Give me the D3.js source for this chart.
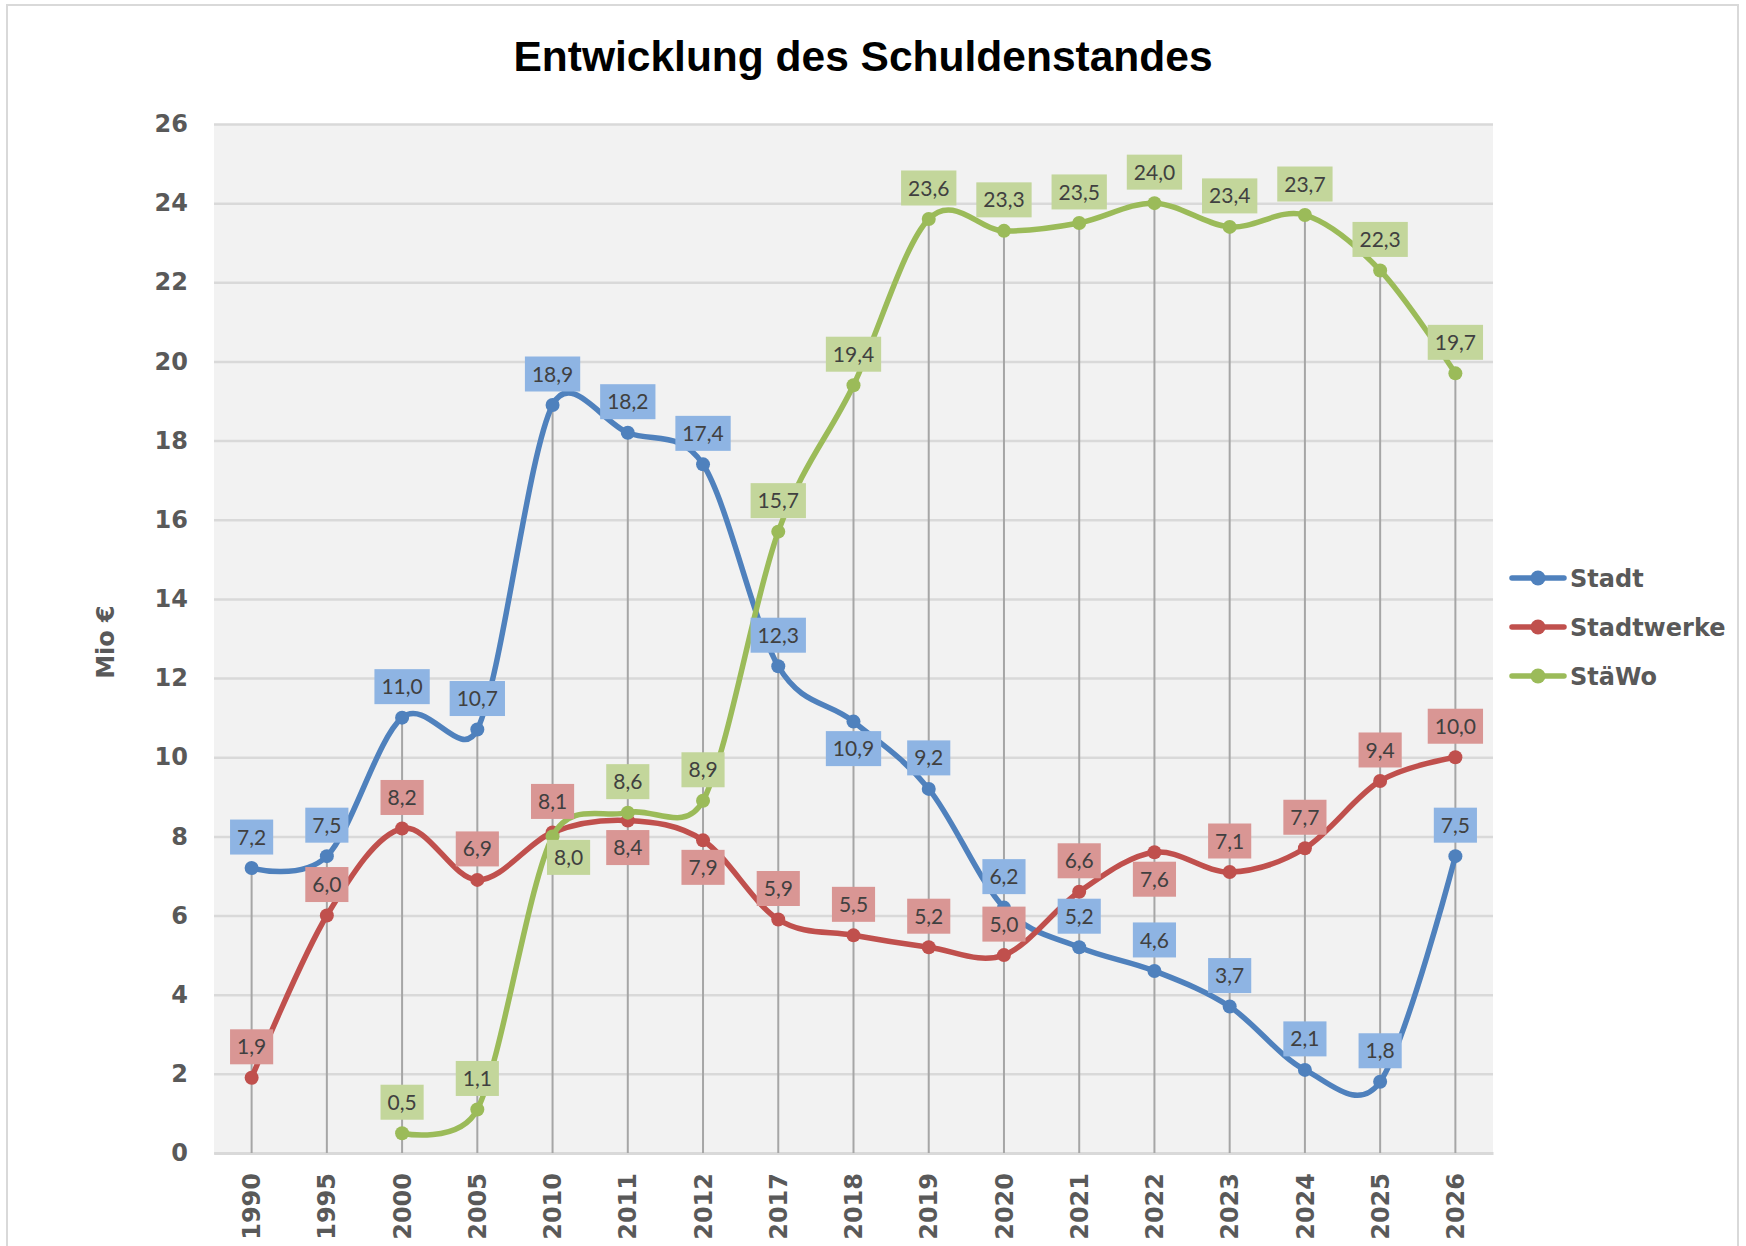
<!DOCTYPE html>
<html>
<head>
<meta charset="utf-8">
<script src="https://cdn.jsdelivr.net/npm/d3@7"></script>
<style>
  body { margin: 0; background: #fff; }
  svg { display: block; }
</style>
</head>
<body>
<svg id="chart" width="1746" height="1246"></svg>
<script>
// categories and series values (Mio €)
const years = ["1990", "1995", "2000", "2005", "2010", "2011", "2012", "2017", "2018",
               "2019", "2020", "2021", "2022", "2023", "2024", "2025", "2026"];
const stadt = [7.2, 7.5, 11.0, 10.7, 18.9, 18.2, 17.4, 12.3, 10.9, 9.2, 6.2, 5.2, 4.6, 3.7, 2.1, 1.8, 7.5];
const stadtwerke = [1.9, 6.0, 8.2, 6.9, 8.1, 8.4, 7.9, 5.9, 5.5, 5.2, 5.0, 6.6, 7.6, 7.1, 7.7, 9.4, 10.0];
const staewo = [null, null, 0.5, 1.1, 8.0, 8.6, 8.9, 15.7, 19.4, 23.6, 23.3, 23.5, 24.0, 23.4, 23.7, 22.3, 19.7];
const yTicks = [0, 2, 4, 6, 8, 10, 12, 14, 16, 18, 20, 22, 24, 26];
const seriesNames = ["Stadt", "Stadtwerke", "StäWo"];
// data labels that sit below their point ("r" = right and below)
const labelPlace = {"Stadt|2018": "b", "Stadtwerke|2011": "b", "Stadtwerke|2012": "b",
                    "Stadtwerke|2022": "b", "StäWo|2010": "r"};

const series = [
  {name: seriesNames[0], values: stadt, color: "#4F81BD", box: "#8EB4E3"},
  {name: seriesNames[1], values: stadtwerke, color: "#C0504D", box: "#D99694"},
  {name: seriesNames[2], values: staewo, color: "#9BBB59", box: "#C3D69B"}
];

const svg = d3.select("#chart");
const plot = {left: 214, right: 1493, top: 124, bottom: 1153};
const fmt = d3.formatLocale({decimal: ",", thousands: ".", grouping: [3], currency: ["", " €"]}).format(".1f");

// smoothed line like the spreadsheet one: catmull-rom tangents, handles capped at half a segment
const smoothPath = pts => {
  const p = d3.path();
  const n = pts.length;
  const tan = pts.map((q, i) => {
    if (i === 0 || i === n - 1) return [0, 0];
    return [(pts[i + 1][0] - pts[i - 1][0]) / 6, (pts[i + 1][1] - pts[i - 1][1]) / 6];
  });
  const cap = (t, seg) => {
    const len = Math.hypot(t[0], t[1]), max = 0.5 * seg;
    const k = len > max && len > 0 ? max / len : 1;
    return [t[0] * k, t[1] * k];
  };
  p.moveTo(pts[0][0], pts[0][1]);
  for (let i = 0; i < n - 1; i++) {
    const a = pts[i], b = pts[i + 1];
    const seg = Math.hypot(b[0] - a[0], b[1] - a[1]);
    const ta = cap(tan[i], seg), tb = cap(tan[i + 1], seg);
    p.bezierCurveTo(a[0] + ta[0], a[1] + ta[1], b[0] - tb[0], b[1] - tb[1], b[0], b[1]);
  }
  return p.toString();
};

// chart border
svg.append("rect")
  .attr("x", 7).attr("y", 5).attr("width", 1731).attr("height", 1260)
  .attr("fill", "#fff").attr("stroke", "#D9D9D9").attr("stroke-width", 2);

svg.append("text")
  .attr("x", 863).attr("y", 71)
  .attr("text-anchor", "middle")
  .style("font-family", "'Liberation Sans', Arial, sans-serif")
  .style("font-weight", "bold").style("font-size", "42.5px")
  .attr("fill", "#000")
  .text("Entwicklung des Schuldenstandes");

const x = d3.scaleBand().domain(years).range([plot.left, plot.right]);
const y = d3.scaleLinear().domain([0, 26]).range([plot.bottom, plot.top]);
const cx = d => x(d) + x.bandwidth() / 2;

svg.append("rect")
  .attr("x", plot.left).attr("y", plot.top)
  .attr("width", plot.right - plot.left).attr("height", plot.bottom - plot.top)
  .attr("fill", "#F2F2F2");

// horizontal gridlines
svg.append("g")
  .attr("transform", `translate(${plot.left},0)`)
  .call(d3.axisLeft(y).tickValues(yTicks).tickSize(-(plot.right - plot.left)).tickFormat(""))
  .call(g => g.select(".domain").remove())
  .call(g => g.selectAll("line").attr("stroke", "#D9D9D9").attr("stroke-width", 2.5));

// y axis labels
const tickFont = "'DejaVu Sans', sans-serif";
svg.append("g")
  .attr("transform", `translate(${plot.left},0)`)
  .call(d3.axisLeft(y).tickValues(yTicks).tickSize(0).tickPadding(26).tickFormat(d3.format("d")))
  .call(g => g.select(".domain").remove())
  .call(g => g.selectAll("text")
    .attr("fill", "#595959")
    .style("font-family", tickFont).style("font-weight", "bold").style("font-size", "24px"));

// x axis labels
svg.append("g")
  .attr("transform", `translate(0,${plot.bottom})`)
  .call(d3.axisBottom(x).tickSize(0))
  .call(g => g.select(".domain").attr("stroke", "#D9D9D9").attr("stroke-width", 3))
  .call(g => g.selectAll("text")
    .attr("transform", "rotate(-90)")
    .attr("x", -20).attr("y", 0).attr("dy", "0.36em")
    .attr("text-anchor", "end")
    .attr("fill", "#595959")
    .style("font-family", tickFont).style("font-weight", "bold").style("font-size", "24px"));

svg.append("text")
  .attr("transform", "translate(105,642) rotate(-90)")
  .attr("text-anchor", "middle").attr("dy", "0.36em")
  .attr("fill", "#595959")
  .style("font-family", tickFont).style("font-weight", "bold").style("font-size", "24px")
  .text("Mio €");

// drop lines from the highest point to the axis
svg.append("g").selectAll("line")
  .data(years)
  .join("line")
  .attr("x1", d => cx(d)).attr("x2", d => cx(d))
  .attr("y1", (d, i) => y(d3.max(series, s => s.values[i])))
  .attr("y2", plot.bottom)
  .attr("stroke", "#A6A6A6").attr("stroke-width", 2);

series.forEach(s => {
  const pts = years.map((year, i) => ({year, v: s.values[i]})).filter(d => d.v != null);
  const g = svg.append("g");
  g.append("path")
    .attr("d", smoothPath(pts.map(d => [cx(d.year), y(d.v)])))
    .attr("fill", "none").attr("stroke", s.color)
    .attr("stroke-width", 5.5).attr("stroke-linecap", "round");
  g.selectAll("circle").data(pts)
    .join("circle")
    .attr("cx", d => cx(d.year)).attr("cy", d => y(d.v))
    .attr("r", 7).attr("fill", s.color);
});

// data labels
const labelG = svg.append("g");
series.forEach(s => {
  years.forEach((year, i) => {
    const v = s.values[i];
    if (v == null) return;
    const place = labelPlace[s.name + "|" + year];
    let lx = cx(year), ly = y(v) - 31;
    if (place === "b") ly = y(v) + 27;
    if (place === "r") { lx += 16; ly = y(v) + 21; }
    const g = labelG.append("g").attr("transform", `translate(${lx},${ly})`);
    const rect = g.append("rect").attr("fill", s.box);
    const t = g.append("text")
      .attr("text-anchor", "middle").attr("dy", "0.36em")
      .attr("fill", "#404040")
      .style("font-family", "Lato, 'Open Sans', sans-serif").style("font-size", "21px")
      .text(fmt(v));
    const w = t.node().getComputedTextLength() + 14;
    rect.attr("x", -w / 2).attr("y", -17.5).attr("width", w).attr("height", 35);
  });
});

// legend
const legend = svg.append("g");
series.forEach((s, i) => {
  const ly = 578 + i * 49;
  legend.append("line")
    .attr("x1", 1512).attr("x2", 1564).attr("y1", ly).attr("y2", ly)
    .attr("stroke", s.color).attr("stroke-width", 5.5).attr("stroke-linecap", "round");
  legend.append("circle").attr("cx", 1538).attr("cy", ly).attr("r", 7.5).attr("fill", s.color);
  legend.append("text")
    .attr("x", 1570).attr("y", ly).attr("dy", "0.36em")
    .attr("fill", "#595959")
    .style("font-family", tickFont).style("font-weight", "bold").style("font-size", "24px")
    .text(s.name);
});
</script>
</body>
</html>
